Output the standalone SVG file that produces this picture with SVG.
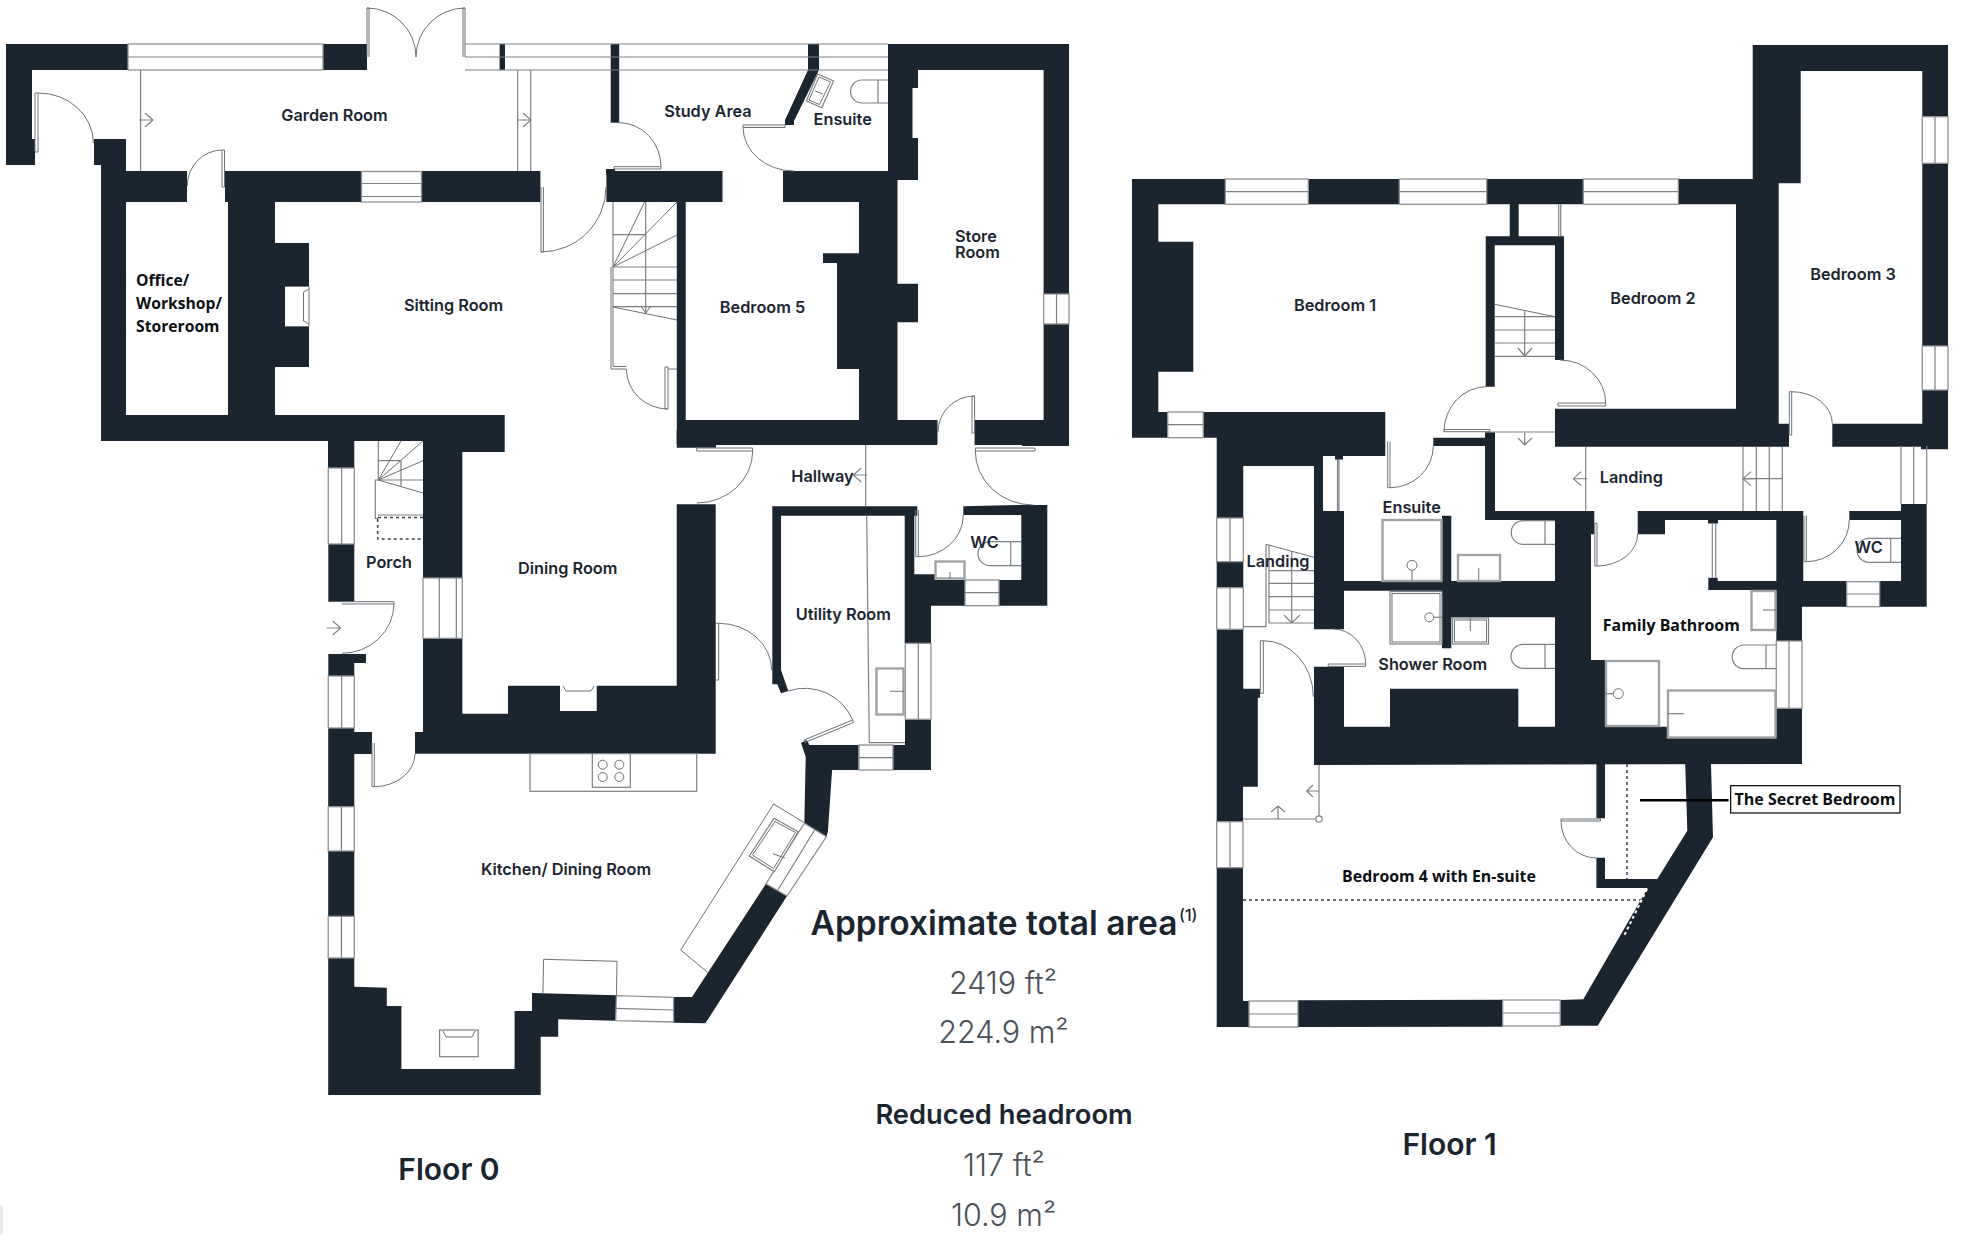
<svg xmlns="http://www.w3.org/2000/svg" width="1965" height="1253" viewBox="0 0 1965 1253">
<style>
.wall{fill:#1b2530;stroke:none}
.win{fill:#fff;stroke:#8e9194;stroke-width:1.3}
.ln{fill:none;stroke:#7c8085;stroke-width:1.2}
.thin{fill:none;stroke:#6d7278;stroke-width:1}
.dbl{fill:#fff;stroke:#8a8d91;stroke-width:1.3}
.fx{fill:#fff;stroke:#7c8085;stroke-width:1.2}
.fx2{fill:#fff;stroke:#a0a3a6;stroke-width:2.4}
.dash{fill:none;stroke:#3a4048;stroke-width:1.5;stroke-dasharray:3 3}
text{font-family:Inter,"Noto Sans",sans-serif;fill:#1b2530}
.r{font-size:16.3px;font-weight:600;text-anchor:middle}
.l{font-size:16.3px;font-weight:600}
.b{font-family:"Open Sans","Liberation Sans",sans-serif;font-size:15.7px;font-weight:700;fill:#0c0f14}
.bm{font-family:"Open Sans","Liberation Sans",sans-serif;font-size:15.9px;font-weight:700;fill:#0c0f14;text-anchor:middle}
.h1{font-size:33.5px;font-weight:600;text-anchor:middle}
.h2{font-size:27.3px;font-weight:600;text-anchor:middle}
.n{font-size:30.5px;font-weight:300;text-anchor:middle;fill:#4a5058}
.f{font-size:30px;font-weight:600;text-anchor:middle}
</style>
<defs>
<path id="chev" d="M-8-7 0 0-8 7M-14 0H0" fill="none" stroke="#7c8085" stroke-width="1.1"/>
</defs>
<rect width="1965" height="1253" fill="#fff"/>
<rect x="0" y="1205" width="3" height="30" fill="#e8e8e8"/>

<g id="floor-0-walls">
<polygon class="wall" points="6,44 128,44 128,70 32,70 32,139 35,139 35,165 6,165"/>
<rect class="wall" x="323" y="44" width="44" height="26"/>
<rect class="wall" x="499.6" y="44" width="5.4" height="26"/>
<rect class="wall" x="610.7" y="44" width="8.5" height="78.7"/>
<polygon class="wall" points="808,44 819,44 819,70 794,121 794,125 785,125 785,120 808,70"/>
<polygon class="wall" points="94,139 126,139 126,171 187,171 187,202 126,202 126,415 228,415 228,202 225,202 225,171 361.5,171 361.5,202 275,202 275,243 309,243 309,286 285,286 285,327 309,327 309,367 275,367 275,415 504.7,415 504.7,452 462.3,452 462.3,578 423,578 423,441 354.3,441 354.3,468 328,468 328,441 101,441 101,165 94,165"/>
<rect class="wall" x="421.7" y="171" width="118.7" height="31"/>
<polygon class="wall" points="606.4,171 722.5,171 722.5,202 685.7,202 685.7,420 859,420 859,369 837,369 837,263 823,263 823,253.3 859,253.3 859,202 783,202 783,171 888,171 888,44 1069,44 1069,294 1043.6,294 1043.6,70 918,70 918,180 897.5,180 897.5,283.7 918,283.7 918,322.3 897.5,322.3 897.5,420 937.5,420 937.5,444.3 716,444.3 716,447.7 676.8,447.7 676.8,202 606.4,202"/>
<polygon class="wall" points="974.6,420 1043.6,420 1043.6,324 1069,324 1069,446 1022,446 1022,445 974.6,445"/>
<rect fill="#fff" x="912.5" y="88" width="5.5" height="50"/>
<rect class="wall" x="328.3" y="544" width="26" height="57.7"/>
<polygon class="wall" points="328.3,654 366,654 366,663 354.3,663 354.3,676 328.3,676"/>
<polygon class="wall" points="423,638.3 462.3,638.3 462.3,713.7 508,713.7 508,685.7 560,685.7 560,711 596.7,711 596.7,685.7 676.7,685.7 676.7,504.3 715.7,504.3 715.7,753.7 415,753.7 415,732 423,732"/>
<polygon class="wall" points="328.2,728 354.3,728 354.3,732 372,732 372,754 354.3,754 354.3,806.7 328.2,806.7"/>
<rect class="wall" x="328.2" y="851" width="26.1" height="65.3"/>
<polygon class="wall" points="328.2,958 354.3,958 354.3,986.7 386.8,987.7 386.8,1006 401.4,1006 401.4,1069 514.6,1069 514.6,1011 532,1011 532,993 616.4,995.3 615.7,1020.7 558.2,1019.3 558.2,1036.7 540.7,1036.7 540.7,1095 328.2,1095"/>
<polygon class="wall" points="673.6,997 692,997 766,883.7 787,896 705.4,1023.3 673.6,1022.7"/>
<polygon class="wall" points="804.3,823.3 805.7,756.7 801,742.7 807,740 809.3,745 858.6,745 858.6,770 832.1,770 827.9,831.7 826.4,836.7"/>
<polygon class="wall" points="893,745 905,745 905,719.3 931,719.3 931,770 893,770"/>
<polygon class="wall" points="772.3,506.3 917.3,506.3 917.3,515.7 914.3,515.7 914.3,574.3 935,574.3 935,580 965,580 965,605.7 931,605.7 931,643.3 904.7,643.3 904.7,515.7 781,515.7 781,670 788.3,691 781,693.3 777.3,684.3 772.3,684.3"/>
<polygon class="wall" points="963.3,506.3 1021.3,505 1047.3,505 1047.3,605.7 999,605.7 999,580 1021.3,580 1021.3,515 963.3,515"/>
<rect class="wall" x="606" y="169" width="9" height="6"/>
<rect class="wall" x="676.7" y="430" width="260.3" height="15"/>
</g>

<g id="floor-0-windows">
<rect class="win" x="128" y="44" width="195" height="26"/><path class="ln" d="M128 57H323"/>
<path class="ln" d="M465 44H888M465 57H888M465 70H888"/>
<rect class="win" x="361.5" y="171.5" width="60" height="30.5"/><path class="ln" d="M361.5 183.5H421.5M361.5 196.5H421.5"/>
<rect class="win" x="1043.6" y="294" width="25.4" height="30"/><path class="ln" d="M1056.5 294V324"/>
<rect class="win" x="423" y="578" width="39.3" height="60.3"/><path class="ln" d="M439.3 578V638M456.3 578V638"/>
<rect class="win" x="328.3" y="468" width="26" height="76"/><path class="ln" d="M341.7 468V544"/>
<rect class="win" x="328.3" y="676" width="26" height="52"/><path class="ln" d="M341.7 676V728"/>
<rect class="win" x="328.2" y="806.7" width="26.1" height="44.3"/><path class="ln" d="M341.4 806.7V851"/>
<rect class="win" x="328.2" y="916.3" width="26.1" height="41.7"/><path class="ln" d="M341.4 916.3V958"/>
<polygon class="win" points="616.4,995.7 673.6,997.3 673.6,1022 615.7,1020.7"/><path class="ln" d="M616 1008.4 673.6 1010"/>
<polygon class="win" points="766,883.7 804.3,823.3 826.4,836.7 787,896"/><path class="ln" d="M777.9 890 814.6 830"/>
<rect class="win" x="859" y="745" width="34" height="25"/><path class="ln" d="M859 757.7H893"/>
<rect class="win" x="905.3" y="643.3" width="25.7" height="76"/><path class="ln" d="M918.3 643.3V719.3"/>
<rect class="win" x="965" y="580" width="34" height="25.7"/><path class="ln" d="M965 592.7H999"/>
</g>

<g id="floor-0-doors">
<path class="thin" d="M367 8H369V57M367 8V57M465 8H463V57M465 8V57H465M367 8A49 49 0 0 1 416 57M465 8A49 49 0 0 0 416 57"/>
<path class="thin" d="M35 93V152H38V93H35M38 93A55 50 0 0 1 93.4 143"/>
<path class="thin" d="M222 150V187H224.5V150H222M222 150A35 36 0 0 0 187.3 186"/>
<path class="thin" d="M541 187V252H543.4V187M541 252A65 65 0 0 0 606 187"/>
<path class="thin" d="M619 122.7A42 44 0 0 1 661 166.7H614V169H661V166.7"/>
<path class="thin" d="M743 125V127.5H785V125H743M743 127.5A51 44 0 0 0 794 171"/>
<path class="thin" d="M611 267V369H626.4M613 267V366.5H626.4M626.4 369A41.6 40 0 0 0 668 409H665V367H668V409M668 369H677"/>
<path class="thin" d="M972 396V433H974.6V396H972M974.6 396A36.6 36 0 0 0 938 432"/>
<path class="thin" d="M696.7 448H752.7V451H696.7V448M752.7 451A56 52 0 0 1 697 503"/>
<path class="thin" d="M341.7 601.7H394V604H341.7M394 604A52 50 0 0 1 342 653.3"/>
<path class="thin" d="M372 743V786.7H374.3V743M374.3 786.7A41 33 0 0 0 415 754"/>
<path class="thin" d="M915.7 510V556.7H918.3V510M918.3 556.7A45 41.7 0 0 0 963.3 515"/>
<path class="thin" d="M975.3 448H1035V451H975.3V448M975.3 451A58 54 0 0 0 1033 505"/>
<path class="thin" d="M715.7 623.3H718.7V680H715.7M718.7 623.3A53 47 0 0 1 771.7 670"/>
<path class="thin" d="M788.3 691A52 52 0 0 1 852.7 720L804 740L805 742.5L853.5 722.5L852.7 720"/>
</g>

<g id="floor-0-fixtures">
<path class="ln" d="M140.6 70V171M517.7 70V171M530.7 70V171"/>
<use href="#chev" x="153" y="120"/><use href="#chev" x="531" y="120"/>
<path class="thin" d="M285 286.500H309V326.500H285M309 289 303.500 292V321L309 324"/>
<path class="ln" d="M613 202V267M613 234.7H645.7M645.7 202V313M613 267H677M613 280H677M613 293.7H677M613 306.7H677"/>
<path class="thin" d="M613 267 644.6 202M613 267 677 202M613 267 677 235M613 307 677 320"/>
<path class="ln" d="M641 306 645.7 313 651 306"/>
<path class="ln" d="M378.3 441V480M378.3 460.7H401M401 460.7V486M378 480H423"/>
<path class="thin" d="M378.3 480 401 441M378.3 480 423 441M378.3 480 423 460.7M378.3 480 423 493"/>
<path class="ln" d="M378 480H375.3V518.3H378M378 515H423"/>
<path class="dash" d="M378 517.5H423M377.7 519V539H423"/>
<use href="#chev" x="340.7" y="628"/>
<rect class="fx" x="530" y="753.7" width="166.7" height="37.6"/>
<rect class="fx" x="592.3" y="753.7" width="38" height="33.6"/>
<g class="thin"><circle cx="602.7" cy="764.7" r="4.5"/><circle cx="619.3" cy="764.7" r="4.5"/><circle cx="602.7" cy="777" r="4.5"/><circle cx="619.3" cy="777" r="4.5"/></g>
<path class="thin" d="M563 686 566 691H591L594 686"/>
<path class="thin" d="M543.6 959.3 617 961.3 616.4 995M543.6 959.3 542.9 993"/>
<rect class="fx" x="439.6" y="1030" width="38.6" height="26.7"/>
<path class="thin" d="M443 1031 446 1037H472L475 1031"/>
<path class="thin" d="M773.6 804 804.3 822.7M773.6 804 680.7 950 707.5 972.3"/>
<polygon class="fx" points="774,818.3 798.2,831.7 774.3,871.7 749.3,856"/>
<polygon class="thin" points="775,821.5 795.5,832.5 773.5,868.5 752.5,855"/>
<path class="thin" d="M773 853.7 785 858"/>
<polygon class="fx" points="817.5,74 833.6,81 821.8,107.7 806.4,101"/>
<polygon class="thin" points="819,77 830.5,82 819.5,104.5 809,100"/>
<path class="thin" d="M815 91 823 94"/>
<path class="ln" d="M878 80H862A11.5 11.5 0 0 0 862 103H888M878 80H888M878 80V103"/>
<path class="ln" d="M865.7 445V506M866.7 515.7 869.3 742.7H905"/>
<use href="#chev" x="853.3" y="475" transform="rotate(180 853.3 475)"/>
<rect class="fx2" x="876.5" y="668.5" width="27" height="46"/>
<path class="thin" d="M890 691.3H904"/>
<rect class="fx2" x="935.5" y="561.5" width="29" height="17"/>
<path class="thin" d="M950 572V579"/>
<path class="ln" d="M1021 541.7H990A12 12 0 0 0 990 565.7H1021M1010.7 541.7V565.7"/>
</g>

<g id="floor-1-walls">
<polygon class="wall" points="1132,179 1225.3,179 1225.3,204.3 1158.3,204.3 1158.3,241.7 1193.3,241.7 1193.3,371.7 1158.3,371.7 1158.3,412 1167.7,412 1167.7,437.7 1132,437.7"/>
<rect class="wall" x="1308.3" y="179" width="91" height="25.3"/>
<polygon class="wall" points="1486.7,179 1583.3,179 1583.3,204.3 1518.7,204.3 1518.7,236.3 1564,236.3 1564,360 1555,360 1555,245.3 1494.7,245.3 1494.7,386.7 1485.7,386.7 1485.7,236.3 1509.7,236.3 1509.7,204.3 1486.7,204.3"/>
<polygon class="wall" points="1678.3,179 1752.7,179 1752.7,45 1948,45 1948,116.7 1922.3,116.7 1922.3,71 1800.7,71 1800.7,183.3 1778.7,183.3 1778.7,423.7 1789,423.7 1789,446.7 1555,446.7 1555,408.7 1736,408.7 1736,204.3 1678.3,204.3"/>
<rect class="wall" x="1922.3" y="163.3" width="25.7" height="182.7"/>
<polygon class="wall" points="1832.3,423.7 1922.3,423.7 1922.3,390 1948,390 1948,449.3 1921,449.3 1921,446.7 1832.3,446.7"/>
<polygon class="wall" points="1203.3,412 1385.3,412 1385.3,456 1323,456 1323,511 1344,511 1344,629.3 1314,629.3 1314,466 1243.3,466 1243.3,518 1216.7,518 1216.7,437.7 1203.3,437.7"/>
<rect class="wall" x="1216.7" y="561.7" width="26.6" height="26"/>
<polygon class="wall" points="1216.7,629.3 1243.3,629.3 1243.3,688.7 1260,688.7 1260,697.7 1257.8,697.7 1257.8,786.7 1243,786.7 1243,821.7 1216.7,821.7"/>
<polygon class="wall" points="1216.7,867.7 1243,867.7 1243,1001 1249,1001 1249,1027 1216.7,1027"/>
<polygon class="wall" points="1298,1000.3 1502.7,999.8 1502.7,1026.7 1298,1027"/>
<polygon class="wall" points="1560.2,1000 1583.3,999.3 1647.7,888 1596.4,888 1596.4,857.7 1605,857.7 1605,879 1657.3,879 1687.3,830.7 1685.2,764 1711,764 1713,837.3 1597.7,1025.7 1560.2,1025.7"/>
<polygon class="wall" points="1596.4,764 1605,764 1605,818.3 1596.4,818.3"/>
<polygon class="wall" points="1314,666.7 1344,666.7 1344,726.7 1390,726.7 1390,688.7 1518.3,688.7 1518.3,726.7 1555,726.7 1555,617.3 1451.3,617.3 1451.3,648.3 1442,648.3 1442,590.7 1344,590.7 1344,581 1442,581 1442,515.7 1451.3,515.7 1451.3,581 1555,581 1555,520 1485,520 1485,446 1433.3,446 1433.3,437.7 1485,437.7 1485,432.3 1495,432.3 1495,511 1594.3,511 1594.3,534.3 1591,534.3 1591,660 1605,660 1605,726.7 1667.7,726.7 1667.7,737.7 1776.3,737.7 1776.3,708.3 1802,708.3 1802,764 1314,765"/>
<polygon class="wall" points="1637.7,511 1803.3,511 1803.3,581 1846.7,581 1846.7,606.7 1802,606.7 1802,641 1776.3,641 1776.3,590 1708.3,590 1708.3,577.7 1717.7,577.7 1717.7,581 1776.3,581 1776.3,520 1665,520 1665,534.3 1637.7,534.3"/>
<rect class="wall" x="1708" y="519" width="10" height="4.5"/>
<polygon class="wall" points="1849.3,511 1901,511 1901,504 1926.7,504 1926.7,606.7 1879.7,606.7 1879.7,581 1901,581 1901,520 1849.3,520"/>
</g>

<g id="floor-1-windows">
<rect class="win" x="1225.3" y="179" width="83" height="25.3"/><path class="ln" d="M1225.3 191.7H1308.3"/>
<rect class="win" x="1399.3" y="179" width="87.4" height="25.3"/><path class="ln" d="M1399.3 191.7H1486.7"/>
<rect class="win" x="1583.3" y="179" width="95" height="25.3"/><path class="ln" d="M1583.3 191.7H1678.3"/>
<rect class="win" x="1922.3" y="116.7" width="25.7" height="46.6"/><path class="ln" d="M1935 116.7V163.3"/>
<rect class="win" x="1922.3" y="346" width="25.7" height="44"/><path class="ln" d="M1935 346V390"/>
<rect class="win" x="1167.7" y="412" width="35.6" height="25.7"/><path class="ln" d="M1167.7 424.7H1203.3"/>
<rect class="win" x="1216.7" y="518" width="26.6" height="43.7"/><path class="ln" d="M1230 518V561.7"/>
<rect class="win" x="1216.7" y="587.7" width="26.6" height="41.6"/><path class="ln" d="M1230 587.7V629.3"/>
<rect class="win" x="1216.7" y="821.7" width="26.3" height="46"/><path class="ln" d="M1230 821.7V867.7"/>
<rect class="win" x="1249" y="1001" width="49" height="26"/><path class="ln" d="M1249 1014H1298"/>
<rect class="win" x="1502.7" y="1000" width="57.5" height="26"/><path class="ln" d="M1502.7 1013H1560.2"/>
<rect class="win" x="1776.3" y="641" width="25.7" height="67.3"/><path class="ln" d="M1789 641V708.3"/>
<rect class="win" x="1846.7" y="581.7" width="33" height="25"/><path class="ln" d="M1846.7 594H1879.7"/>
<path class="ln" d="M1901 446V504M1913.7 446V504M1926.7 446V504"/>
</g>

<g id="floor-1-doors">
<path class="thin" d="M1486.7 386.7A42.7 45 0 0 0 1444 431.7H1490V429.5H1444V431.7"/>
<path class="thin" d="M1560 360A45.7 43 0 0 1 1605.7 403H1558V406H1605.7V403"/>
<path class="thin" d="M1387.7 441.7V487.7H1390V441.7M1390 487.7A43.3 41.7 0 0 0 1433.3 446"/>
<path class="thin" d="M1333 629A32.7 35 0 0 1 1365.7 664H1328.3V666.4H1365.7V664"/>
<path class="thin" d="M1260.3 640.7V693.3H1263.3V640.7H1260.3M1263.3 640.7A50 56 0 0 1 1313.3 696.7"/>
<path class="thin" d="M1789.3 391.7V435H1791.7V391.7H1789.3M1791.7 391.7A40.6 32 0 0 1 1832.3 423.7"/>
<path class="thin" d="M1594.3 523.3H1597V566H1594.8V523.3M1597 566A40.7 32 0 0 0 1637.7 534"/>
<path class="thin" d="M1804 515.7V561.7H1806.3V515.7M1806.3 561.7A43 41.7 0 0 0 1849.3 520"/>
<path class="thin" d="M1561 819H1600.5V821H1561V819M1561 821A35.4 37 0 0 0 1596.4 858"/>
</g>

<g id="floor-1-fixtures">
<path class="ln" d="M1558.7 204.3V236.3M1560.7 204.3V236.3"/>
<path class="ln" d="M1494.7 316.7H1555M1494.7 330H1555M1494.7 343H1555M1494.7 356.3H1555M1524.7 310.7V356M1490 432H1555"/>
<path class="thin" d="M1494.7 304.3 1555 316.7"/>
<path class="ln" d="M1518 348 1524.7 356 1532 348M1524.7 432.7V445M1518 438 1524.7 445 1532 438"/>
<path class="ln" d="M1339 456V511M1337.5 456V511"/>
<rect class="wall" x="1335" y="456" width="8" height="3.5"/>
<path class="ln" d="M1266 544.3V626.7H1243.3M1269 545V623M1269 570.7H1314M1269 583.3H1314M1269 596.7H1314M1269 610H1314M1269 623H1314M1291.7 551V623M1284 615 1291.7 623 1300 615"/>
<path class="thin" d="M1266 544.3 1314 557.3"/>
<rect class="fx2" x="1382.5" y="520" width="59" height="61"/>
<circle class="thin" cx="1412" cy="565.3" r="5"/><path class="ln" d="M1412 570V581"/>
<rect class="fx2" x="1458" y="555" width="42" height="26"/><path class="thin" d="M1478.7 568V581"/>
<path class="ln" d="M1555 520.7H1523A11.8 11.8 0 0 0 1523 544.3H1555M1545 520.7V544.3"/>
<rect class="fx" x="1390" y="591.5" width="52" height="52.5"/><rect class="thin" x="1392" y="593.5" width="48" height="48.5"/>
<circle class="thin" cx="1429.3" cy="617.3" r="4.5"/><path class="ln" d="M1433.5 617.3H1442"/>
<rect class="fx" x="1452.5" y="618" width="36" height="26"/><rect class="thin" x="1454.5" y="620" width="32" height="22"/><path class="thin" d="M1470.3 618V631"/>
<path class="ln" d="M1555 644.3H1523A12 12 0 0 0 1523 668.3H1555M1545 644.3V668.3"/>
<path class="ln" d="M1585.7 447V511M1743 447V511M1756.3 447V511M1769.3 447V511M1782.3 447V511M1743 478.7H1782.3"/>
<use href="#chev" x="1573.3" y="478.7" transform="rotate(180 1573.3 478.7)"/>
<use href="#chev" x="1743" y="478.7" transform="rotate(180 1743 478.7)"/>
<path class="ln" d="M1712.3 523V577.7M1715.7 523V577.7"/>
<rect class="fx2" x="1751.5" y="591" width="24" height="39"/><path class="thin" d="M1763 610H1776"/>
<path class="ln" d="M1776.3 645H1744A11.8 11.8 0 0 0 1744 668.7H1776.3M1766 645V668.7"/>
<rect class="fx2" x="1606" y="661" width="53" height="65"/>
<circle class="thin" cx="1618.3" cy="693.7" r="5"/><path class="ln" d="M1605 693.7H1613.3"/>
<rect class="fx2" x="1668" y="690.5" width="107.5" height="47"/><path class="ln" d="M1668 713.7H1684"/>
<path class="ln" d="M1901 538.3H1869A12 12 0 0 0 1869 562.3H1901M1890.7 538.3V562.3"/>
<path class="dash" d="M1243 900H1642.5"/>
<path class="dash" d="M1627 764V879"/>
<path d="M1647 889 1624 936" fill="none" stroke="#fff" stroke-width="2" stroke-dasharray="3 3"/>
<path class="ln" d="M1319 765V819M1243 819H1319M1319 791H1306.7M1313 785 1306.7 791 1313 797M1278 819V806M1271 812 1278 806 1285 812"/>
<circle class="fx" cx="1319" cy="819" r="3.2"/>
<rect x="1730.7" y="785.7" width="169.3" height="27.3" fill="#fff" stroke="#000" stroke-width="1.2"/>
<path d="M1640 800.3H1728.6" stroke="#000" stroke-width="2.5" fill="none"/>
</g>

<g id="labels">
<text class="r" x="334.5" y="120.7">Garden Room</text>
<text class="r" x="453.5" y="310.7">Sitting Room</text>
<text class="b" x="136" y="286">Office/</text>
<text class="b" x="136" y="309">Workshop/</text>
<text class="b" x="136" y="332">Storeroom</text>
<text class="r" x="708" y="116.7">Study Area</text>
<text class="r" x="842.7" y="125">Ensuite</text>
<text class="l" x="955" y="242">Store</text>
<text class="l" x="955" y="258.3">Room</text>
<text class="r" x="762.5" y="312.7">Bedroom 5</text>
<text class="r" x="389" y="567.7">Porch</text>
<text class="r" x="567.7" y="574">Dining Room</text>
<text class="r" x="822.5" y="481.7">Hallway</text>
<text class="r" x="843.3" y="620">Utility Room</text>
<text class="r" x="984.5" y="548.3">WC</text>
<text class="r" x="566" y="875">Kitchen/ Dining Room</text>
<text class="r" x="1335" y="311">Bedroom 1</text>
<text class="r" x="1653" y="304">Bedroom 2</text>
<text class="r" x="1853" y="280">Bedroom 3</text>
<text class="r" x="1411.7" y="512.7">Ensuite</text>
<text class="r" x="1278" y="567.3">Landing</text>
<text class="r" x="1432.7" y="670">Shower Room</text>
<text class="r" x="1631.3" y="482.7">Landing</text>
<text class="r" x="1868.7" y="552.7">WC</text>
<text class="bm" x="1671.3" y="631">Family Bathroom</text>
<text class="bm" x="1439" y="881.7">Bedroom 4 with En-suite</text>
<text class="bm" x="1815" y="804.5" style="font-size:16px">The Secret Bedroom</text>
<text class="h1" x="994" y="935">Approximate total area</text>
<text x="1179" y="921" style="font-size:16px;font-weight:500">(1)</text>
<text class="n" x="1003" y="994">2419 ft²</text>
<text class="n" x="1003.5" y="1043.3">224.9 m²</text>
<text class="h2" x="1004" y="1124">Reduced headroom</text>
<text class="n" x="1004" y="1175.7">117 ft²</text>
<text class="n" x="1003.6" y="1225.7">10.9 m²</text>
<text class="f" x="449" y="1180">Floor 0</text>
<text class="f" x="1449.5" y="1155.3">Floor 1</text>
</g>
</svg>
